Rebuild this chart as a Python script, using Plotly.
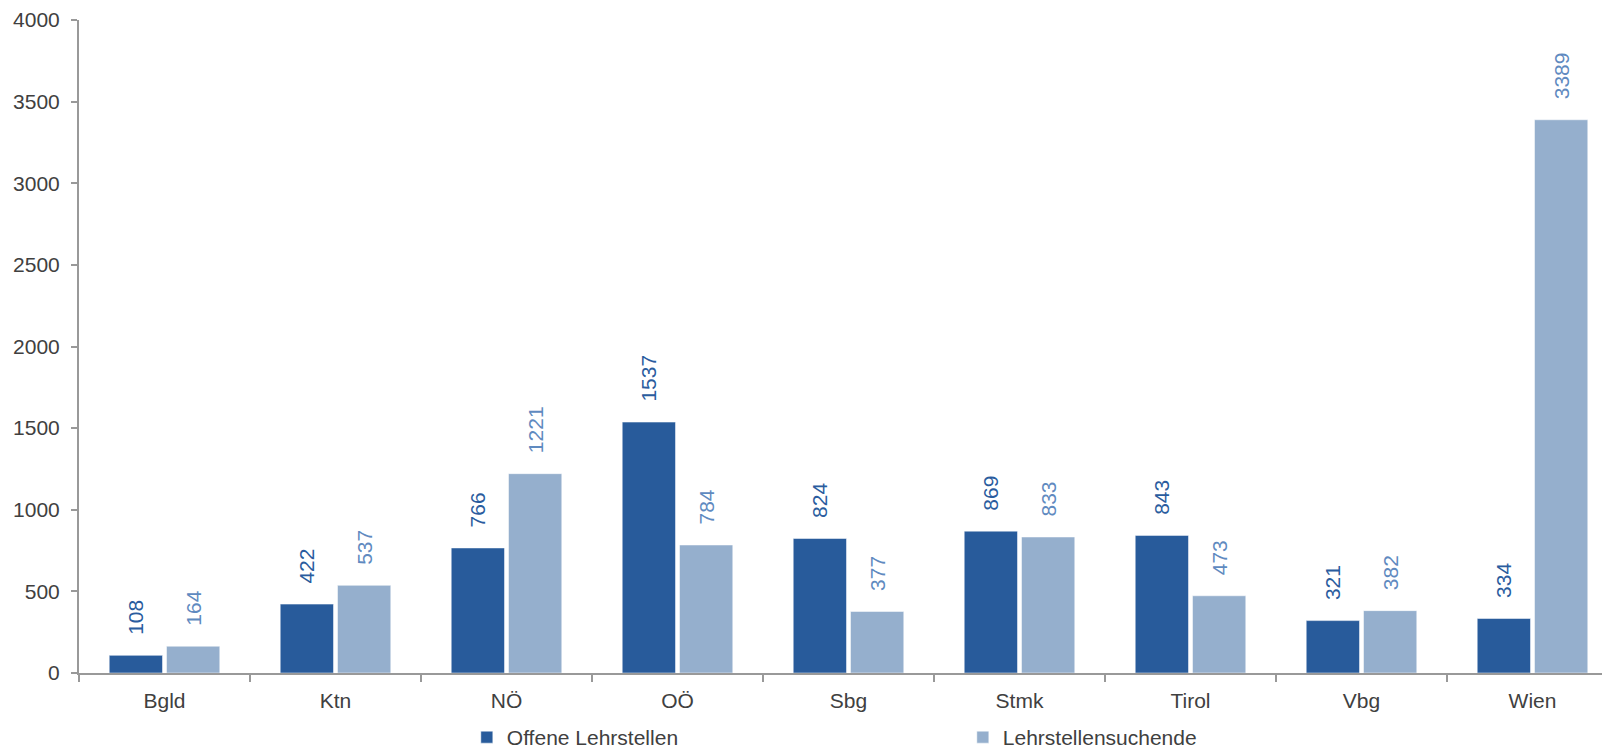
import plotly.graph_objects as go

categories = ["Bgld", "Ktn", "NÖ", "OÖ", "Sbg", "Stmk", "Tirol", "Vbg", "Wien"]
offene = [108, 422, 766, 1537, 824, 869, 843, 321, 334]
suchende = [164, 537, 1221, 784, 377, 833, 473, 382, 3389]
y_ticks = [0, 500, 1000, 1500, 2000, 2500, 3000, 3500, 4000]

DARK = "#285B9B"
LIGHT = "#95AFCD"
DARK_TXT = "#2A5C9E"
LIGHT_TXT = "#5F8AC0"
AXIS = "#999999"
FONT = "Liberation Sans, Arial, sans-serif"
PAD = "\u00a0\u00a0\u00a0"

fig = go.Figure()
fig.add_trace(go.Bar(
    x=categories, y=offene, name="Offene Lehrstellen",
    marker=dict(color=DARK, line=dict(color="white", width=0.5)),
    text=[PAD + str(v) for v in offene], textposition="outside",
    textangle=-90, constraintext="none", cliponaxis=False,
    textfont=dict(color=DARK_TXT, size=21, family=FONT),
    hoverinfo="x+y",
))
fig.add_trace(go.Bar(
    x=categories, y=suchende, name="Lehrstellensuchende",
    marker=dict(color=LIGHT, line=dict(color="white", width=0.5)),
    text=[PAD + str(v) for v in suchende], textposition="outside",
    textangle=-90, constraintext="none", cliponaxis=False,
    textfont=dict(color=LIGHT_TXT, size=21, family=FONT),
    hoverinfo="x+y",
))

fig.update_layout(
    width=1610, height=750,
    margin=dict(l=71, r=0, t=12, b=79.5),
    paper_bgcolor="white", plot_bgcolor="white",
    barmode="group", bargap=0.33, bargroupgap=0.07,
    font=dict(family=FONT, size=21, color="#404040"),
    showlegend=True,
    legend=dict(orientation="h", x=0.252, xanchor="left", y=-0.068, yanchor="top",
                entrywidth=451, entrywidthmode="pixels",
                font=dict(size=21, color="#404040", family=FONT),
                itemclick=False, itemdoubleclick=False),
    xaxis=dict(showline=True, linecolor=AXIS, linewidth=2,
               ticks="outside", tickson="boundaries", ticklen=7, tickwidth=2,
               tickcolor=AXIS, showgrid=False, zeroline=False, ticklabelstandoff=8,
               tickfont=dict(size=21, color="#404040")),
    yaxis=dict(range=[0, 4000], tickvals=y_ticks, showline=True, linecolor=AXIS,
               linewidth=2, ticks="outside", ticklen=6, tickwidth=2, tickcolor=AXIS,
               showgrid=False, zeroline=False, ticklabelstandoff=7,
               tickfont=dict(size=21, color="#404040")),
)

fig.write_html("out.html")
